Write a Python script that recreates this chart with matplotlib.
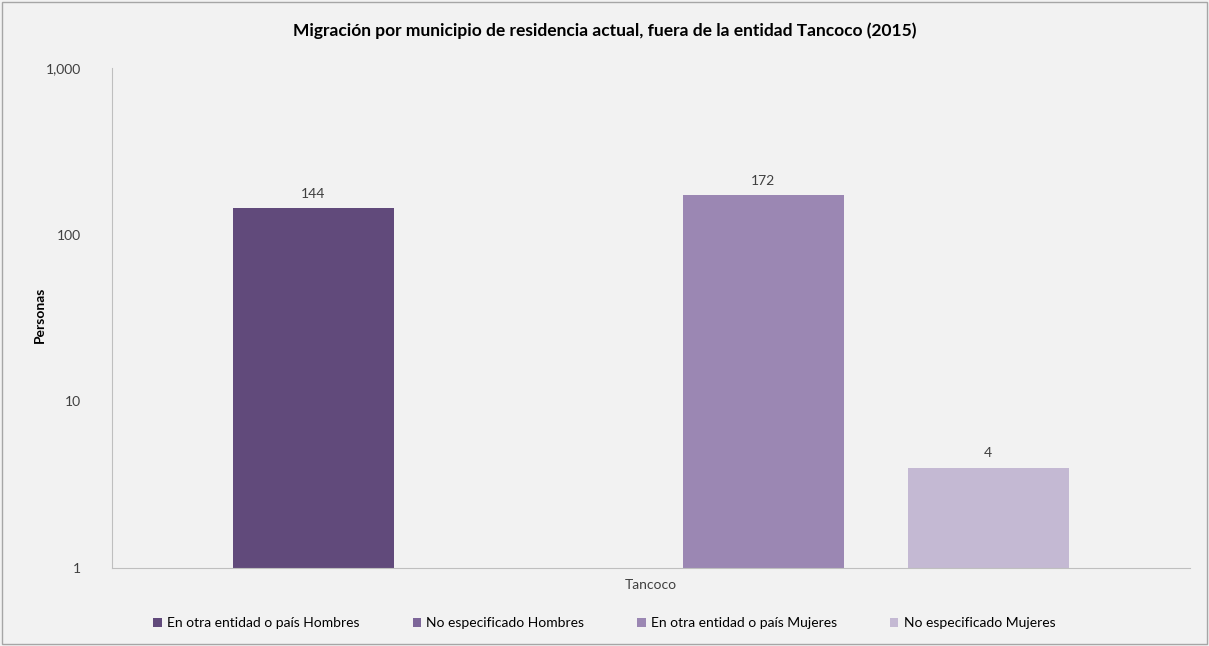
import matplotlib.pyplot as plt
import matplotlib.ticker as mticker
import numpy as np

category = "Tancoco"
series = ["En otra entidad o país Hombres", "No especificado Hombres",
          "En otra entidad o país Mujeres", "No especificado Mujeres"]
values = [144, np.nan, 172, 4]
colors = ["#614a7b", "#7d6699", "#9b87b3", "#c4b9d3"]

plt.rcParams["font.family"] = ["Lato", "DejaVu Sans"]

fig = plt.figure(figsize=(12.09, 6.46), dpi=100, facecolor="#f2f2f2")
ax = fig.add_axes([0.0926, 0.1207, 0.8915, 0.774])
ax.set_facecolor("#f2f2f2")

width = 0.149
step = 0.2087
offsets = (np.arange(len(series)) - 1.5) * step
for off, val, col, name in zip(offsets, values, colors, series):
    ax.bar(off, val, width=width, color=col, label=name)
    if not np.isnan(val):
        ax.text(off, val * 1.12, f"{val:g}", ha="center", va="bottom",
                fontsize=10, color="#404040")

ax.set_yscale("log")
ax.set_ylim(1, 1000)
ax.set_xlim(-0.5, 0.5)
ax.yaxis.set_major_formatter(mticker.FuncFormatter(lambda v, p: f"{v:,.0f}"))
ax.yaxis.set_minor_locator(mticker.NullLocator())
ax.set_xticks([0])
ax.set_xticklabels([category])
ax.tick_params(axis="both", length=0, labelsize=10, colors="#404040", pad=8)
ax.tick_params(axis="y", pad=22)

for s in ["top", "right"]:
    ax.spines[s].set_visible(False)
for s in ["left", "bottom"]:
    ax.spines[s].set_color("#bfbfbf")

fig.text(40 / 1209, 1 - 315 / 646, "Personas", rotation=90, ha="center", va="center",
         fontsize=10, fontweight="bold", color="#000000")
fig.suptitle("Migración por municipio de residencia actual, fuera de la entidad Tancoco (2015)",
             fontsize=12.5, fontweight="bold", y=0.965, x=0.5)

fig.legend(loc="center", bbox_to_anchor=(0.5, 0.035), ncol=4, frameon=False,
           fontsize=10, handlelength=0.6, handleheight=0.6, columnspacing=3.8,
           handletextpad=0.4)

fig.patches.append(plt.Rectangle((0.002, 0.003), 0.996, 0.994, transform=fig.transFigure,
                                 fill=False, edgecolor="#a6a6a6", linewidth=1))

fig.savefig("out.png", dpi=100, facecolor=fig.get_facecolor())
